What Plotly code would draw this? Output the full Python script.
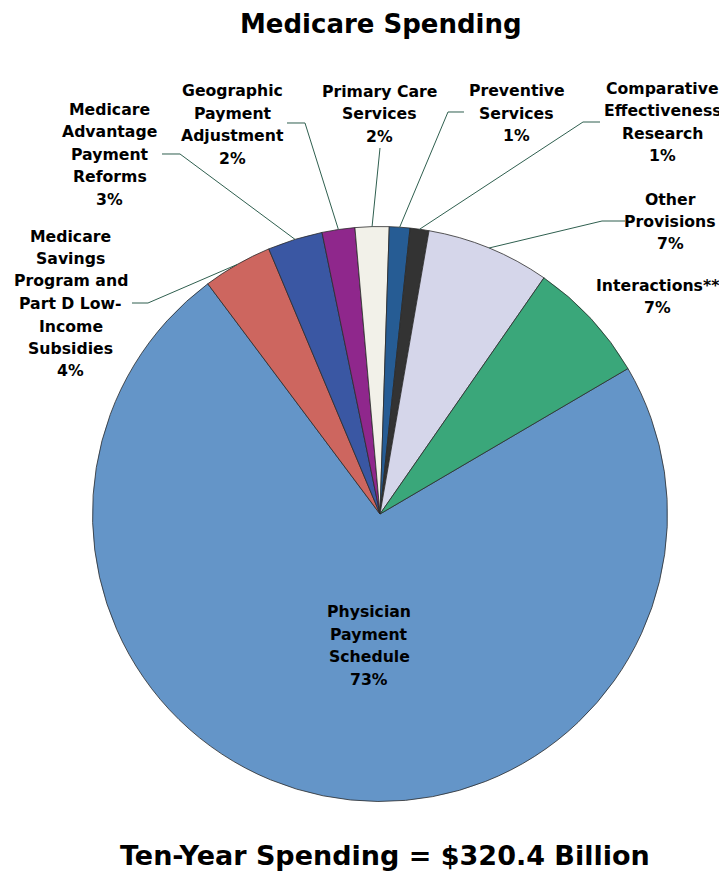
import math
import plotly.graph_objects as go

# ---------------- data ----------------
categories = [
    "Physician Payment Schedule",
    "Medicare Savings Program and Part D Low-Income Subsidies",
    "Medicare Advantage Payment Reforms",
    "Geographic Payment Adjustment",
    "Primary Care Services",
    "Preventive Services",
    "Comparative Effectiveness Research",
    "Other Provisions",
    "Interactions**",
]
values_bn = [234.6, 12.5, 9.9, 5.9, 6.1, 3.7, 3.4, 22.2, 22.1]  # $ billions, ten-year
label_lines = [
    ["Physician", "Payment", "Schedule"],
    ["Medicare", "Savings", "Program and", "Part D Low-", "Income", "Subsidies"],
    ["Medicare", "Advantage", "Payment", "Reforms"],
    ["Geographic", "Payment", "Adjustment"],
    ["Primary Care", "Services"],
    ["Preventive", "Services"],
    ["Comparative", "Effectiveness", "Research"],
    ["Other", "Provisions"],
    ["Interactions**"],
]
colors = ["#6495C8", "#CD665F", "#3A57A3", "#8F278C", "#F2F1E9",
          "#265C94", "#333333", "#D5D6EA", "#3AA77A"]
title_text = "Medicare Spending"
footer_text = "Ten-Year Spending = $320.4 Billion"

# ---------------- layout settings ----------------
WIN_W, WIN_H = 727, 874
OFF = 8                      # page body margin
W, H = WIN_W - OFF, WIN_H - OFF
CX, CY, R = 380, 514, 287.5  # in window pixels
ROTATION = 59.6
FONT = "DejaVu Sans"
LINE_STEP = 22.5

# label block placement (window pixel centre x, first line cap-centre y)
label_pos = [
    (369, 611.7),
    (70.8, 236.0),
    (109.5, 109.5),
    (232.5, 90.7),
    (379.0, 91.0),
    (516.7, 90.7),
    (662.5, 88.3),
    (670.0, 199.0),
    (657.5, 285.0),
]
# leader line label-side points (window pixels); None = no leader
leader_pts = [
    None,
    [(132, 303), (148, 303)],
    [(162, 154), (180, 154)],
    [(287, 123), (305, 123)],
    [(380, 148)],
    [(464, 112), (448, 112)],
    [(600, 122), (583, 122)],
    [(625, 221), (602, 221)],
    None,
]


def px(x):
    return (x - OFF) / W


def py(y):
    return 1 - (y - OFF) / H


total = sum(values_bn)
percents = [f"{round(v / total * 100)}%" for v in values_bn]

fig = go.Figure(go.Pie(
    labels=categories,
    values=values_bn,
    sort=False,
    direction="clockwise",
    rotation=ROTATION,
    marker=dict(colors=colors, line=dict(color="#2b2b2b", width=0.8)),
    textinfo="none",
    hoverinfo="label+value+percent",
    showlegend=False,
    domain=dict(x=[px(CX - R), px(CX + R)], y=[py(CY + R), py(CY - R)]),
))

annotations = []
for lines, pct, (lx, ly) in zip(label_lines, percents, label_pos):
    for i, t in enumerate(lines + [pct]):
        annotations.append(dict(
            text=f"<b>{t}</b>", x=px(lx), y=py(ly + i * LINE_STEP),
            xref="paper", yref="paper", xanchor="center", yanchor="middle",
            showarrow=False, font=dict(family=FONT, size=15.7, color="#000000"),
        ))

annotations.append(dict(
    text=f"<b>{title_text}</b>", x=px(381.4), y=py(23.7), xref="paper", yref="paper",
    xanchor="center", yanchor="middle", showarrow=False,
    font=dict(family=FONT, size=26, color="#000000")))
annotations.append(dict(
    text=f"<b>{footer_text}</b>", x=px(385), y=py(855.5), xref="paper", yref="paper",
    xanchor="center", yanchor="middle", showarrow=False,
    font=dict(family=FONT, size=27, color="#000000")))

# leader lines to slice mid-points on the rim
shapes = []
cum = 0.0
for v, pts in zip(values_bn, leader_pts):
    mid = math.radians(ROTATION + 360 * (cum + v / 2) / total)
    cum += v
    if pts is None:
        continue
    ex, ey = CX + R * math.sin(mid), CY - R * math.cos(mid)
    allp = pts + [(ex, ey)]
    path = "M " + " L ".join(f"{px(x):.5f},{py(y):.5f}" for x, y in allp)
    shapes.append(dict(type="path", path=path, xref="paper", yref="paper",
                       line=dict(color="#2F5F4F", width=1)))

fig.update_layout(
    width=W, height=H, autosize=False,
    margin=dict(l=0, r=0, t=0, b=0),
    paper_bgcolor="white", plot_bgcolor="white",
    annotations=annotations, shapes=shapes,
)

fig.write_html("out.html")
